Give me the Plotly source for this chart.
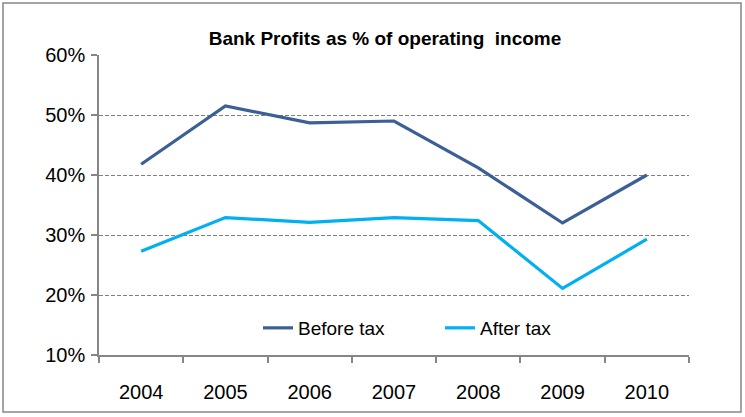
import plotly.graph_objects as go

years = ["2004", "2005", "2006", "2007", "2008", "2009", "2010"]
before_tax = [0.418, 0.515, 0.487, 0.490, 0.412, 0.320, 0.400]
after_tax = [0.273, 0.329, 0.321, 0.329, 0.324, 0.211, 0.293]

W, H = 745, 417
ml, mr, mt, mb = 99, 56, 55, 62
pw, ph = W - ml - mr, H - mt - mb

font_family = "Liberation Sans, Arial, sans-serif"

fig = go.Figure()
fig.add_trace(go.Scatter(x=years, y=before_tax, name="Before tax", mode="lines",
                         line=dict(color="#3B5F96", width=3.2)))
fig.add_trace(go.Scatter(x=years, y=after_tax, name="After tax", mode="lines",
                         line=dict(color="#00B0F0", width=3.2)))

fig.update_layout(
    width=W, height=H,
    margin=dict(l=ml, r=mr, t=mt, b=mb),
    paper_bgcolor="white", plot_bgcolor="white",
    font=dict(family=font_family, size=20, color="black"),
    title=dict(text="<b>Bank Profits as % of operating  income</b>",
               x=(385 - ml) / pw, xref="paper", xanchor="center",
               y=1 - 38 / H, yanchor="middle",
               font=dict(family=font_family, size=19)),
    showlegend=True,
    legend=dict(orientation="h", x=(258 - ml) / pw, xanchor="left",
                y=(H - mb - 328) / ph, yanchor="middle",
                bgcolor="rgba(0,0,0,0)", font=dict(size=19),
                entrywidth=137, entrywidthmode="pixels", tracegroupgap=0),
    xaxis=dict(type="category", showgrid=False, showline=True, linecolor="#868686",
               linewidth=1.5, ticks="outside", tickson="boundaries", ticklen=6,
               tickcolor="#868686", tickwidth=1.5, ticklabelstandoff=18,
               tickfont=dict(size=20), range=[-0.5, 6.5]),
    yaxis=dict(range=[0.1, 0.6], tickvals=[0.1, 0.2, 0.3, 0.4, 0.5, 0.6],
               tickformat=".0%", showgrid=True, gridcolor="#808080", gridwidth=1.2,
               griddash="4px,2px", showline=True, linecolor="#868686", linewidth=1.5,
               ticks="outside", ticklen=6, tickcolor="#868686", tickwidth=1.5,
               ticklabelstandoff=2, tickfont=dict(size=20), zeroline=False),
    shapes=[dict(type="rect", xref="paper", yref="paper",
                 x0=(3 - ml) / pw, x1=(741 - ml) / pw,
                 y0=(H - mb - 412) / ph, y1=(H - mb - 3) / ph,
                 line=dict(color="#868686", width=1.5), fillcolor="rgba(0,0,0,0)",
                 layer="below")],
)

fig.write_html("out.html")
